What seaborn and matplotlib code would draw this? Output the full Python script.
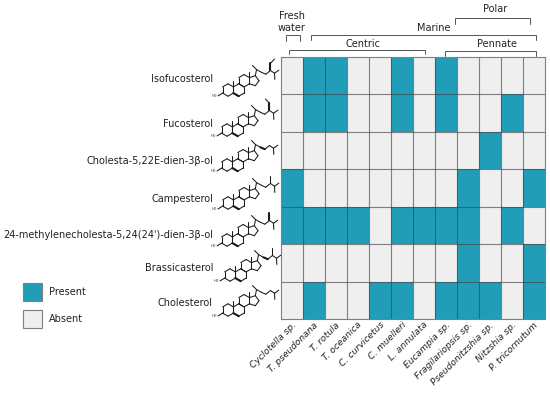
# Sterol presence/absence heatmap across diatom species
import matplotlib
matplotlib.use("Agg")
import matplotlib.pyplot as plt
from matplotlib.patches import Patch
import numpy as np
import pandas as pd
import seaborn as sns

# --------------------------------------------------------------
# Data
# --------------------------------------------------------------
species = ["Cyclotella sp.", "T. pseudonana", "T. rotula", "T. oceanica",
           "C. curvicetus", "C. muelleri", "L. annulata", "Eucampia sp.",
           "Fragilariopsis sp.", "Pseudonitzshia sp.", "Nitzshia sp.", "P. tricornutum"]
sterols = ["Isofucosterol", "Fucosterol", "Cholesta-5,22E-dien-3β-ol", "Campesterol",
           "24-methylenecholesta-5,24(24')-dien-3β-ol", "Brassicasterol", "Cholesterol"]

isofucosterol = [0, 1, 1, 0, 0, 1, 0, 1, 0, 0, 0, 0]
fucosterol = [0, 1, 1, 0, 0, 1, 0, 1, 0, 0, 1, 0]
cholestadienol = [0, 0, 0, 0, 0, 0, 0, 0, 0, 1, 0, 0]
campesterol = [1, 0, 0, 0, 0, 0, 0, 0, 1, 0, 0, 1]
methylenecholesta = [1, 1, 1, 1, 0, 1, 1, 1, 1, 0, 1, 0]
brassicasterol = [0, 0, 0, 0, 0, 0, 0, 0, 1, 0, 0, 1]
cholesterol = [0, 1, 0, 0, 1, 1, 0, 1, 1, 1, 0, 1]

# label and molecule positions, in image pixels
label_y = [79, 124, 161, 199, 235, 268, 303]
ring_x = [228, 227, 227, 228, 227, 230, 228]
ring_y = [90, 130, 165, 203, 240, 275, 310]
side_chain = ["isofuco", "fuco", "d22", "methyl", "methylene", "brassica", "plain"]

# bracket: x0, x1, y top, y bottom
brackets = [(285.7, 300, 35, 40.5), (310.7, 535.7, 34.5, 40), (289, 425, 49.5, 54),
            (445.3, 535.7, 50.7, 56), (455, 530, 18, 24)]
group_labels = [("Fresh", 292, 16), ("water", 292, 28), ("Marine", 434, 28),
                ("Centric", 363, 44), ("Pennate", 497, 44), ("Polar", 495, 9)]

TEAL = "#219db8"
LIGHT = "#efefef"
GREY = "#7f7f7f"
INK = "#222222"
FONT = 7.0

# --------------------------------------------------------------
# Figure and heatmap
# --------------------------------------------------------------
sns.set_theme(style="white")
plt.rcParams["font.family"] = ["DejaVu Sans"]

table = pd.DataFrame([isofucosterol, fucosterol, cholestadienol, campesterol,
                      methylenecholesta, brassicasterol, cholesterol],
                     index=sterols, columns=species)

fig = plt.figure(figsize=(5.5, 3.93), dpi=100)
ax = fig.add_axes([280.5 / 550, 1 - 319 / 393, 264 / 550, 262.5 / 393])
sns.heatmap(table, ax=ax, cmap=[LIGHT, TEAL], cbar=False, linewidths=0,
            vmin=0, vmax=1, yticklabels=False)
# grid drawn on top, semi transparent so it goes darker over the teal cells
ax.vlines(np.arange(1, len(species)), 0, len(sterols), color="#444444", alpha=0.65, lw=0.8)
ax.hlines(np.arange(1, len(sterols)), 0, len(species), color="#444444", alpha=0.65, lw=0.8)
ax.set_xlabel("")
ax.set_ylabel("")
for side in ax.spines.values():
    side.set_visible(True)
    side.set_color(GREY)
    side.set_linewidth(0.8)
ax.tick_params(axis="x", length=0, pad=1)
plt.setp(ax.get_xticklabels(), rotation=45, ha="right", va="top", rotation_mode="anchor",
         style="italic", fontsize=6.6, color=INK)

# overlay in pixel coordinates for labels, brackets and structures
over = fig.add_axes([0, 0, 1, 1], zorder=3)
over.set_xlim(0, 550)
over.set_ylim(393, 0)
over.axis("off")
over.patch.set_alpha(0)

for name, y in zip(sterols, label_y):
    over.text(213, y, name, ha="right", va="center", fontsize=FONT, color=INK)

for x0, x1, top, bottom in brackets:
    over.plot([x0, x0, x1, x1], [bottom, top, top, bottom], color="#555555", lw=0.7)
for text, x, y in group_labels:
    over.text(x, y, text, ha="center", va="center", fontsize=FONT, color=INK)


def sterol(cx, cy, kind, s=6.2):
    # skeletal formula, unit = one bond, y pointing up
    def line(a, b, lw=0.75):
        over.plot([cx + a[0] * s, cx + b[0] * s], [cy - a[1] * s, cy - b[1] * s],
                  color="#1a1a1a", lw=lw, solid_capstyle="round")

    angles = np.radians([30, 90, 150, 210, 270, 330])
    for rx, ry in [(0, 0), (1.732, 0), (2.598, 1.5)]:
        pts = [(rx + np.cos(t), ry + np.sin(t)) for t in angles]
        for i in range(6):
            line(pts[i], pts[(i + 1) % 6])
    ring_d = [(3.464, 2.0), (4.41, 2.31), (5.0, 1.5), (4.41, 0.69), (3.464, 1.0)]
    for a, b in zip(ring_d[:-1], ring_d[1:]):
        line(a, b)
    line((0.866, -0.5), (1.732, -1), 1.5)       # C5=C6
    line((0.866, 0.5), (0.866, 1.4))            # C19
    line((3.464, 2.0), (3.464, 2.9))            # C18
    line((-0.866, -0.5), (-1.6, -0.95))         # to HO
    over.text(cx - 1.7 * s, cy + 0.95 * s, "HO", fontsize=2.5, ha="right", va="center",
              color="#333333")

    c17, c20, c21, c22 = (4.41, 2.31), (4.6, 3.3), (3.95, 3.95), (5.4, 2.85)
    c23, c24, c25, c26, c27 = (6.1, 2.55), (6.85, 3.15), (7.5, 2.7), (8.2, 3.2), (7.55, 1.7)
    line(c17, c20)
    line(c20, c21)
    line(c20, c22)
    line(c22, c23, 1.5 if kind in ("d22", "brassica") else 0.75)
    line(c23, c24)
    line(c24, c25)
    line(c25, c26)
    line(c25, c27)
    top = (6.85, 4.3)
    if kind in ("methyl", "brassica"):
        line(c24, top)
    if kind == "methylene":
        line(c24, top, 1.5)
    if kind == "isofuco":
        line(c24, top, 1.5)
        line(top, (7.5, 5.0))
    if kind == "fuco":
        line(c24, top, 1.5)
        line(top, (6.2, 5.0))


for x, y, kind in zip(ring_x, ring_y, side_chain):
    sterol(x, y, kind)

# legend
handles = [Patch(facecolor=TEAL, edgecolor=GREY, linewidth=0.8, label="Present"),
           Patch(facecolor=LIGHT, edgecolor=GREY, linewidth=0.8, label="Absent")]
over.legend(handles=handles, loc="upper left", bbox_to_anchor=(23 / 550, 1 - 283 / 393),
            bbox_transform=fig.transFigure, frameon=False, fontsize=FONT,
            handlelength=1.96, handleheight=2.48, labelspacing=0.93, handletextpad=0.75,
            borderpad=0, borderaxespad=0, labelcolor=INK)

fig.savefig("out.png", dpi=100)
